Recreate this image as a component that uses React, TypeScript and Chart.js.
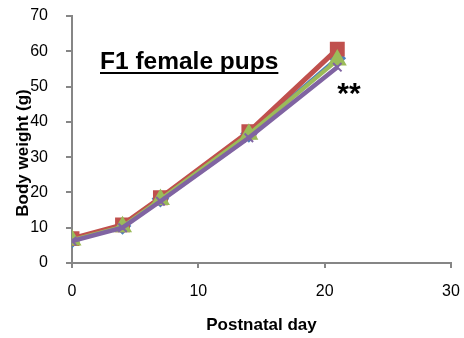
import React, { useEffect, useRef } from "react";
import { Chart, registerables } from "chart.js";

Chart.register(...registerables);

const days = [0, 4, 7, 14, 21];
const seriesBlue = [6.6, 10.5, 18.2, 36.6, 58.0];
const seriesRed = [6.9, 10.8, 18.5, 37.2, 60.6];
const seriesGreen = [6.5, 10.3, 18.0, 36.5, 57.5];
const seriesPurple = [6.2, 10.0, 17.5, 35.5, 55.5];
const xTicks = [0, 10, 20, 30];
const yTicks = [0, 10, 20, 30, 40, 50, 60, 70];
const titleText = "F1 female pups";
const xTitle = "Postnatal day";
const yTitle = "Body weight (g)";
const sigText = "**";

const FONT = "'Liberation Sans', Arial, sans-serif";
const AXIS = "#868686";

const toPts = (vals: number[]) => days.map((d, i) => ({ x: d, y: vals[i] }));

export default function App() {
  const ref = useRef<HTMLCanvasElement | null>(null);
  useEffect(() => {
    if (!ref.current) return;
    const annot = {
      id: "annot",
      afterDraw(chart: any) {
        const ctx = chart.ctx;
        const xs = chart.scales.x;
        const ys = chart.scales.y;
        const ca = chart.chartArea;
        ctx.save();
        ctx.fillStyle = "#000";
        // title
        ctx.font = `bold 24.5px ${FONT}`;
        ctx.textAlign = "left";
        ctx.textBaseline = "alphabetic";
        const tx = 100, ty = 69;
        ctx.fillText(titleText, tx, ty);
        const w = ctx.measureText(titleText).width;
        ctx.fillRect(tx, ty + 3, w, 2);
        // significance
        ctx.font = `bold 30px ${FONT}`;
        ctx.textAlign = "center";
        ctx.textBaseline = "alphabetic";
        ctx.fillText(sigText, xs.getPixelForValue(21.93), ys.getPixelForValue(45.3));
        // x title
        ctx.font = `bold 17px ${FONT}`;
        ctx.textBaseline = "middle";
        ctx.fillText(xTitle, (ca.left + ca.right) / 2, 325);
        // y title
        ctx.translate(23, 153);
        ctx.rotate(-Math.PI / 2);
        ctx.fillText(yTitle, 0, 0);
        ctx.restore();
      },
    };
    const chart = new Chart(ref.current, {
      type: "line",
      data: {
        datasets: [
          {
            data: toPts(seriesPurple),
            borderColor: "#8064A2",
            backgroundColor: "#8064A2",
            borderWidth: 4.5,
            pointStyle: "crossRot",
            pointRadius: 6,
            pointBorderWidth: 2,
          },
          {
            data: toPts(seriesGreen),
            borderColor: "#9BBB59",
            backgroundColor: "#9BBB59",
            borderWidth: 4,
            pointStyle: "triangle",
            pointRadius: 7,
          },
          {
            data: toPts(seriesRed),
            borderColor: "#C0504D",
            backgroundColor: "#C0504D",
            borderWidth: 5,
            pointStyle: "rect",
            pointRadius: 7,
          },
          {
            data: toPts(seriesBlue),
            borderColor: "#4F81BD",
            backgroundColor: "#4F81BD",
            borderWidth: 4,
            pointStyle: "rectRot",
            pointRadius: 6,
          },
        ] as any,
      },
      options: {
        responsive: false,
        animation: false,
        layout: { padding: { top: 16, right: 13, left: 0, bottom: 0 } },
        plugins: { legend: { display: false }, tooltip: { enabled: false } },
        elements: { line: { tension: 0 } },
        scales: {
          x: {
            type: "linear",
            min: 0,
            max: 30,
            afterBuildTicks: (s: any) => {
              s.ticks = xTicks.map((v) => ({ value: v }));
            },
            afterFit: (s: any) => {
              s.height = 75;
              s.paddingLeft = 0;
              s.paddingRight = 0;
            },
            ticks: { color: "#000", font: { size: 16, family: FONT }, padding: 14 },
            grid: { drawOnChartArea: false, drawTicks: true, tickLength: 5, color: AXIS, lineWidth: 2 },
            border: { color: AXIS, width: 2 },
          },
          y: {
            type: "linear",
            min: 0,
            max: 70,
            afterBuildTicks: (s: any) => {
              s.ticks = yTicks.map((v) => ({ value: v }));
            },
            afterFit: (s: any) => {
              s.width = 72;
              s.paddingTop = 0;
              s.paddingBottom = 0;
            },
            ticks: { color: "#000", font: { size: 16, family: FONT }, padding: 18 },
            grid: { drawOnChartArea: false, drawTicks: true, tickLength: 6, color: AXIS, lineWidth: 2 },
            border: { color: AXIS, width: 2 },
          },
        },
      } as any,
      plugins: [annot],
    });
    return () => chart.destroy();
  }, []);
  return (
    <div style={{ position: "fixed", left: 0, top: 0, width: 464, height: 338, background: "#fff" }}>
      <canvas ref={ref} width={464} height={338} style={{ width: 464, height: 338 }} />
    </div>
  );
}
